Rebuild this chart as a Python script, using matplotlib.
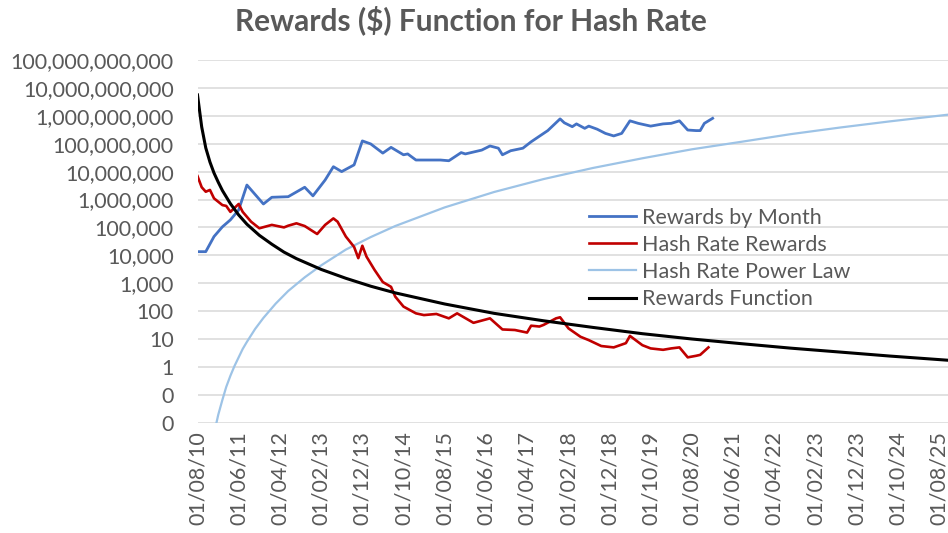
import matplotlib
matplotlib.use("Agg")
import matplotlib.pyplot as plt
import matplotlib.dates as mdates
from matplotlib.ticker import FuncFormatter, NullLocator
from datetime import datetime

plt.rcParams['font.family'] = ['Lato', 'DejaVu Sans']

title = "Rewards ($) Function for Hash Rate"

# ---- data ----
rewards_month_dates = ["2010-08", "2010-10", "2010-12", "2011-02", "2011-04", "2011-06", "2011-08",
    "2011-12", "2012-02", "2012-06", "2012-10", "2012-12", "2013-03", "2013-05", "2013-07",
    "2013-10", "2013-12", "2014-02", "2014-05", "2014-07", "2014-10", "2014-11", "2015-01",
    "2015-07", "2015-09", "2015-12", "2016-01", "2016-05", "2016-07", "2016-09", "2016-10",
    "2016-12", "2017-03", "2017-05", "2017-08", "2017-09", "2017-12", "2018-01", "2018-03",
    "2018-04", "2018-06", "2018-07", "2018-09", "2018-11", "2019-01", "2019-03", "2019-05",
    "2019-07", "2019-10", "2020-01", "2020-03", "2020-05", "2020-07", "2020-09", "2020-10",
    "2020-11", "2021-01"]
rewards_month_values = [1.35e4, 1.35e4, 4.7e4, 1.05e5, 1.86e5, 4.2e5, 3.3e6,
    6.9e5, 1.2e6, 1.26e6, 2.75e6, 1.35e6, 5.0e6, 1.5e7, 1.0e7,
    1.74e7, 1.26e8, 9.8e7, 4.6e7, 7.4e7, 4.0e7, 4.3e7, 2.6e7,
    2.6e7, 2.45e7, 4.8e7, 4.3e7, 5.9e7, 8.3e7, 6.9e7, 4.0e7,
    5.6e7, 6.9e7, 1.17e8, 2.34e8, 2.95e8, 7.76e8, 5.62e8, 4.07e8,
    5.13e8, 3.55e8, 4.27e8, 3.31e8, 2.34e8, 1.9e8, 2.34e8, 6.6e8,
    5.37e8, 4.27e8, 5.13e8, 5.37e8, 6.6e8, 3.09e8, 2.95e8, 2.95e8,
    5.37e8, 8.13e8]

hash_rewards_dates = ["2010-08", "2010-09", "2010-10", "2010-11", "2010-12", "2011-02", "2011-03",
    "2011-04", "2011-06", "2011-07", "2011-09", "2011-11", "2012-02", "2012-05", "2012-06",
    "2012-08", "2012-10", "2013-01", "2013-03", "2013-05", "2013-06", "2013-08", "2013-10",
    "2013-11", "2013-12", "2014-01", "2014-03", "2014-05", "2014-07", "2014-08", "2014-10",
    "2015-01", "2015-03", "2015-06", "2015-09", "2015-11", "2016-03", "2016-07", "2016-10",
    "2017-01", "2017-04", "2017-05", "2017-07", "2017-08", "2017-11", "2017-12", "2018-02",
    "2018-05", "2018-07", "2018-10", "2019-01", "2019-04", "2019-05", "2019-08", "2019-10",
    "2020-01", "2020-03", "2020-05", "2020-07", "2020-09", "2020-10", "2020-12"]
hash_rewards_values = [6.9e6, 2.75e6, 1.9e6, 2.2e6, 1.1e6, 6.3e5, 5.9e5,
    3.6e5, 6.9e5, 3.6e5, 1.6e5, 9.3e4, 1.23e5, 1.0e5, 1.15e5,
    1.4e5, 1.12e5, 5.8e4, 1.23e5, 2.1e5, 1.6e5, 4.7e4, 2.0e4,
    7.9e3, 2.2e4, 8.9e3, 3.0e3, 1.1e3, 740, 330, 145,
    83, 72, 79, 55, 83, 38, 55, 22,
    21, 17, 30, 28, 32, 55, 60, 24,
    12, 9.1, 5.6, 5.0, 7.1, 12.9, 6.0, 4.6,
    4.1, 4.6, 5.0, 2.2, 2.5, 2.7, 5.0]

power_law_dates = ["2010-12", "2011-01", "2011-02", "2011-03", "2011-04", "2011-05", "2011-06",
    "2011-07", "2011-08", "2011-10", "2011-12", "2012-03", "2012-06", "2012-10", "2013-02",
    "2013-08", "2014-02", "2014-08", "2015-08", "2016-08", "2017-08", "2018-08", "2019-08",
    "2020-08", "2021-08", "2022-08", "2023-08", "2024-08", "2025-10"]
power_law_values = [0.004, 0.019, 0.066, 0.19, 0.48, 1.07, 2.2,
    4.4, 7.9, 23, 57, 186, 525, 1.62e3, 4.4e3,
    1.6e4, 4.5e4, 1.12e5, 5.2e5, 1.86e6, 5.4e6, 1.35e7, 3.0e7,
    6.3e7, 1.17e8, 2.2e8, 3.8e8, 6.3e8, 1.09e9]

rewards_fn_dates = ["2010-08", "2010-09", "2010-10", "2010-11", "2010-12", "2011-01", "2011-02",
    "2011-04", "2011-06", "2011-08", "2011-11", "2012-02", "2012-05", "2012-08", "2013-02",
    "2013-08", "2014-02", "2014-08", "2015-08", "2016-08", "2017-08", "2018-08", "2019-08",
    "2020-08", "2021-08", "2022-08", "2023-08", "2024-08", "2025-10"]
rewards_fn_values = [5.6e9, 4.0e8, 7.1e7, 2.2e7, 8.9e6, 4.2e6, 2.1e6,
    7.1e5, 2.8e5, 1.3e5, 5.2e4, 2.5e4, 1.3e4, 7.6e3, 3.1e3,
    1.5e3, 780, 450, 180, 83, 45, 26, 15.5,
    10, 6.8, 4.7, 3.4, 2.45, 1.74]

series_labels = ["Rewards by Month", "Hash Rate Rewards", "Hash Rate Power Law", "Rewards Function"]

xtick_labels = ["01/08/10", "01/06/11", "01/04/12", "01/02/13", "01/12/13", "01/10/14", "01/08/15",
    "01/06/16", "01/04/17", "01/02/18", "01/12/18", "01/10/19", "01/08/20", "01/06/21",
    "01/04/22", "01/02/23", "01/12/23", "01/10/24", "01/08/25"]
ytick_values = [1e-2, 1e-1, 1, 10, 100, 1e3, 1e4, 1e5, 1e6, 1e7, 1e8, 1e9, 1e10, 1e11]


def to_dates(lst):
    return [datetime.strptime(s, "%Y-%m") for s in lst]


text_color = "#595959"
fig = plt.figure(figsize=(9.48, 5.33), dpi=100)
ax = fig.add_axes([197.5 / 948, 1 - 422.7 / 533, 1 - 197.5 / 948, (422.7 - 60) / 533])

ax.plot(to_dates(rewards_month_dates), rewards_month_values, color="#4472C4", lw=2.0,
        label=series_labels[0], zorder=4)
ax.plot(to_dates(hash_rewards_dates), hash_rewards_values, color="#C00000", lw=1.9,
        label=series_labels[1], zorder=4)
ax.plot(to_dates(power_law_dates), power_law_values, color="#9DC3E6", lw=1.6,
        label=series_labels[2], zorder=3)
ax.plot(to_dates(rewards_fn_dates), rewards_fn_values, color="#000000", lw=2.2,
        label=series_labels[3], zorder=5)

ax.set_yscale("log")
ax.set_ylim(1e-2, 1e11)
ax.set_yticks(ytick_values)
ax.yaxis.set_minor_locator(NullLocator())
ax.yaxis.set_major_formatter(FuncFormatter(lambda v, p: f"{v:,.0f}"))

xt = [datetime.strptime(s, "%d/%m/%y") for s in xtick_labels]
ax.set_xticks(mdates.date2num(xt))
ax.set_xticklabels(xtick_labels, rotation=90)
ax.set_xlim(mdates.date2num(datetime(2010, 8, 1)), mdates.date2num(datetime(2025, 10, 6)))

ax.grid(axis="y", color="#D9D9D9", lw=1.1)
ax.set_axisbelow(True)
for s in ax.spines.values():
    s.set_visible(False)
ax.tick_params(axis="both", length=0, labelsize=15.5, colors=text_color)
ax.tick_params(axis="y", pad=17)
ax.tick_params(axis="x", pad=6)

fig.text(0.497, 0.962, title, ha="center", va="center", fontsize=21.5, fontweight="bold",
         color=text_color)

leg = ax.legend(loc="upper left", bbox_to_anchor=(578 / 948, 1 - 197 / 533),
                bbox_transform=fig.transFigure, frameon=False, fontsize=15.5,
                handlelength=2.2, handletextpad=0.25, labelspacing=0.33, borderpad=0)
for t in leg.get_texts():
    t.set_color(text_color)

fig.savefig("out.png", dpi=100)
